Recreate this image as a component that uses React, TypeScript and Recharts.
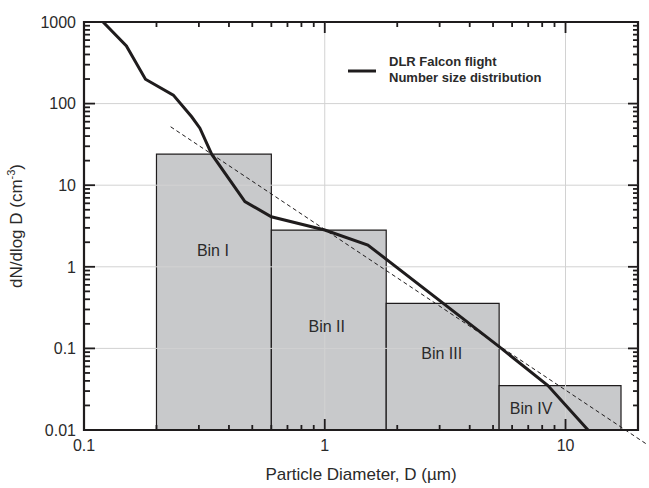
import React from 'react';
import {
  ComposedChart,
  Line,
  XAxis,
  YAxis,
  ReferenceArea,
  ReferenceLine,
} from 'recharts';

// ---- data ----
const CURVE_D = [0.12, 0.15, 0.18, 0.235, 0.28, 0.303, 0.339, 0.466, 0.6, 1.0, 1.51, 5.3, 8.45, 12.4];
const CURVE_N = [1000, 508, 199, 127, 69, 50, 24, 6.3, 4.1, 2.82, 1.85, 0.105, 0.035, 0.01];

const BIN_LO = [0.2, 0.6, 1.8, 5.3];
const BIN_HI = [0.6, 1.8, 5.3, 17];
const BIN_N = [24, 2.82, 0.357, 0.035];
const BIN_LABELS = ['Bin I', 'Bin II', 'Bin III', 'Bin IV'];

const FIT_D = [0.229, 21.9];
const FIT_N = [52, 0.0066];

const X_MAJOR = [0.1, 1, 10];
const Y_MAJOR = [0.01, 0.1, 1, 10, 100, 1000];
const X_GRID = [1, 10];
const Y_GRID = [0.1, 1, 10, 100];

const X_DOMAIN: [number, number] = [0.1, 20];
const Y_DOMAIN: [number, number] = [0.01, 1000];

const SERIES_NAME = ['DLR Falcon flight', 'Number size distribution'];
const X_TITLE = 'Particle Diameter, D (µm)';

// ---- helpers ----
const withMinors = (majors: number[], upper: number) => {
  const out: number[] = [];
  majors.forEach((m) => {
    for (let k = 1; k <= 9; k++) {
      const v = parseFloat((m * k).toPrecision(3));
      if (v <= upper) out.push(v);
    }
  });
  return out;
};
const X_TICKS = withMinors(X_MAJOR, X_DOMAIN[1]);
const Y_TICKS = withMinors(Y_MAJOR.slice(0, -1), Y_DOMAIN[1]).concat([Y_DOMAIN[1]]);

const isMajor = (v: number) => Math.abs(Math.log10(v) - Math.round(Math.log10(v))) < 1e-6;

const curveData = CURVE_D.map((d, i) => ({ d, n: CURVE_N[i] }));

const INK = '#1f1c1d';
const TEXT = '#2a2a2a';
const GRID = '#d2d2d2';
const FONT = '"Liberation Sans", Arial, Helvetica, sans-serif';

const XTickLabel = (p: any) => {
  const { x, y, payload } = p;
  if (!isMajor(payload.value)) return <g />;
  return (
    <text x={x} y={y + 21} textAnchor="middle" fontSize={16} fill={TEXT} fontFamily={FONT}>
      {String(payload.value)}
    </text>
  );
};

const YTickLabel = (p: any) => {
  const { x, y, payload } = p;
  if (!isMajor(payload.value)) return <g />;
  return (
    <text x={x - 8} y={y} dy="0.36em" textAnchor="end" fontSize={16} fill={TEXT} fontFamily={FONT}>
      {String(payload.value)}
    </text>
  );
};

// inward tick marks on both ends of the frame, drawn from the reference line's own coordinates
const yTickShape = (major: boolean) => (p: any) => {
  const l = Math.min(p.x1, p.x2);
  const r = Math.max(p.x1, p.x2);
  return (
    <g>
      <line x1={l} x2={l + (major ? 11 : 6)} y1={p.y1} y2={p.y1} stroke={INK} strokeWidth={1.8} />
      <line x1={r} x2={r - (major ? 10 : 5)} y1={p.y1} y2={p.y1} stroke={INK} strokeWidth={1.8} />
    </g>
  );
};
const xTickShape = (major: boolean) => (p: any) => {
  const t = Math.min(p.y1, p.y2);
  const b = Math.max(p.y1, p.y2);
  return (
    <g>
      <line x1={p.x1} x2={p.x1} y1={t} y2={t + (major ? 11 : 5)} stroke={INK} strokeWidth={1.8} />
      <line x1={p.x1} x2={p.x1} y1={b} y2={b - (major ? 11 : 5)} stroke={INK} strokeWidth={1.8} />
    </g>
  );
};

export default function App() {
  return (
    <div style={{ position: 'absolute', left: 0, top: 0, width: 649, height: 488, background: '#fff' }}>
      <ComposedChart
        width={649}
        height={488}
        data={curveData}
        margin={{ top: 22, right: 11, left: 0, bottom: 0 }}
      >
        {Y_GRID.map((v) => (
          <ReferenceLine key={'gy' + v} y={v} stroke={GRID} strokeWidth={1} />
        ))}
        {X_GRID.map((v) => (
          <ReferenceLine key={'gx' + v} x={v} stroke={GRID} strokeWidth={1} />
        ))}
        {BIN_LO.map((lo, i) => (
          <ReferenceArea
            key={BIN_LABELS[i]}
            x1={lo}
            x2={BIN_HI[i]}
            y1={Y_DOMAIN[0]}
            y2={BIN_N[i]}
            fill="#c8c9cb"
            fillOpacity={1}
            stroke={INK}
            strokeWidth={1.2}
            label={{
              value: BIN_LABELS[i],
              position: 'center',
              fontSize: 16,
              fill: TEXT,
              fontFamily: FONT,
              dx: [-1, -2, -1, -29][i],
              dy: [-42, -4, -13, 1][i],
            }}
          />
        ))}
        <ReferenceLine
          segment={[
            { x: FIT_D[0], y: FIT_N[0] },
            { x: FIT_D[1], y: FIT_N[1] },
          ]}
          stroke={INK}
          strokeWidth={1}
          strokeDasharray="4 3"
          ifOverflow="visible"
        />
        {Y_TICKS.map((v) => (
          <ReferenceLine key={'ty' + v} y={v} ifOverflow="visible" shape={yTickShape(isMajor(v))} />
        ))}
        {X_TICKS.map((v) => (
          <ReferenceLine key={'tx' + v} x={v} ifOverflow="visible" shape={xTickShape(isMajor(v))} />
        ))}
        <ReferenceArea
          x1={X_DOMAIN[0]}
          x2={X_DOMAIN[1]}
          y1={Y_DOMAIN[0]}
          y2={Y_DOMAIN[1]}
          fill="none"
          stroke={INK}
          strokeWidth={2.2}
          ifOverflow="visible"
        />
        <Line
          dataKey="n"
          stroke={INK}
          strokeWidth={3}
          dot={false}
          type="linear"
          isAnimationActive={false}
        />
        <XAxis
          dataKey="d"
          type="number"
          scale="log"
          domain={X_DOMAIN}
          allowDataOverflow
          ticks={X_TICKS}
          interval={0}
          height={58}
          tickSize={0}
          tickMargin={0}
          tick={<XTickLabel />}
          axisLine={{ stroke: INK, strokeWidth: 2 }}
        />
        <YAxis
          type="number"
          scale="log"
          domain={Y_DOMAIN}
          allowDataOverflow
          ticks={Y_TICKS}
          interval={0}
          width={84}
          tickSize={0}
          tickMargin={0}
          tick={<YTickLabel />}
          axisLine={{ stroke: INK, strokeWidth: 2 }}
        />
      </ComposedChart>
      <div
        style={{
          position: 'absolute',
          left: 0,
          top: 465,
          width: 722,
          textAlign: 'center',
          fontFamily: FONT,
          fontSize: 17,
          color: TEXT,
          whiteSpace: 'nowrap',
          lineHeight: '20px',
        }}
      >
        {X_TITLE}
      </div>
      <div style={{ position: 'absolute', left: 5, top: 226, width: 0, height: 0 }}>
        <div
          style={{
            position: 'absolute',
            left: 0,
            top: 0,
            transform: 'translate(-50%, -50%) rotate(-90deg)',
            transformOrigin: '50% 50%',
            marginLeft: 12,
            fontFamily: FONT,
            fontSize: 17,
            color: TEXT,
            whiteSpace: 'nowrap',
            lineHeight: '20px',
          }}
        >
          dN/dlog D (cm<sup style={{ fontSize: 11, verticalAlign: 'super', lineHeight: 0 }}>-3</sup>)
        </div>
      </div>
      <div style={{ position: 'absolute', left: 348, top: 54, width: 210, height: 32, fontFamily: FONT }}>
        <svg width={30} height={6} style={{ position: 'absolute', left: 0, top: 14 }}>
          <line x1={0} x2={28} y1={3} y2={3} stroke={INK} strokeWidth={3} />
        </svg>
        <div
          style={{
            position: 'absolute',
            left: 41,
            top: 0,
            fontSize: 13,
            fontWeight: 'bold',
            lineHeight: '15.5px',
            color: TEXT,
            whiteSpace: 'nowrap',
          }}
        >
          <div>{SERIES_NAME[0]}</div>
          <div>{SERIES_NAME[1]}</div>
        </div>
      </div>
    </div>
  );
}
